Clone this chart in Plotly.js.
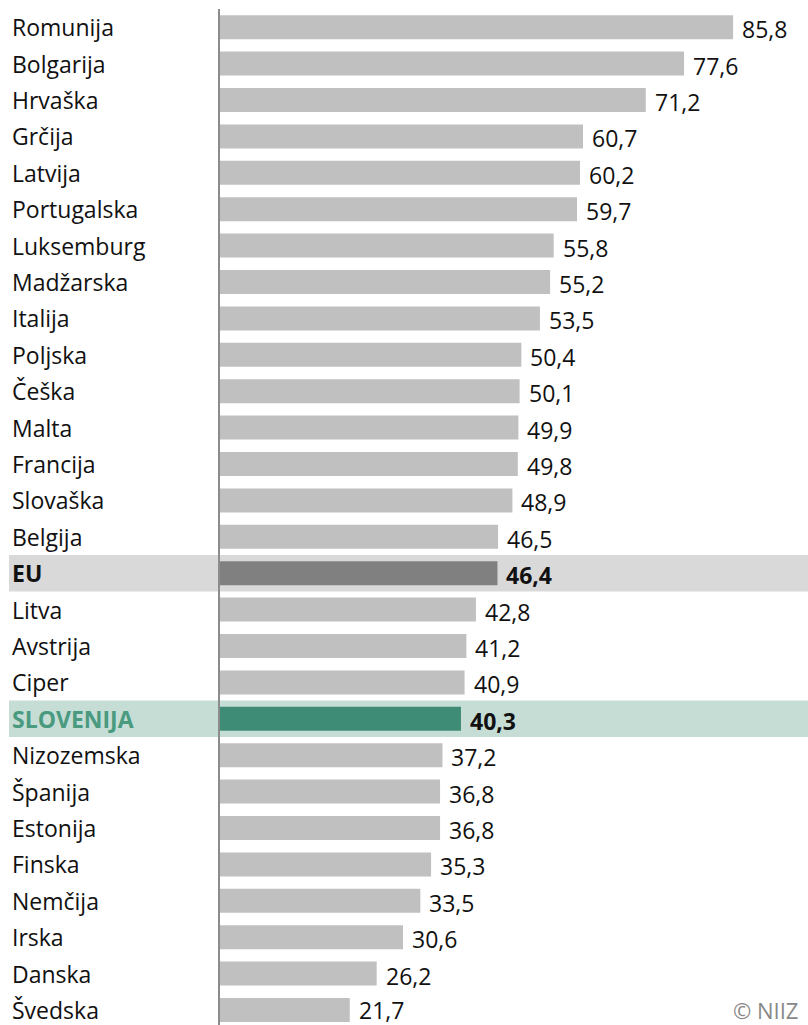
<!DOCTYPE html>
<html>
<head>
<meta charset="utf-8">
<script src="https://cdn.plot.ly/plotly-3.0.1.min.js"></script>
<style>html,body{margin:0;padding:0;background:#fff;}#chart{width:808px;height:1025px;}</style>
</head>
<body>
<div id="chart"></div>
<script>
const countries = ["Romunija","Bolgarija","Hrvaška","Grčija","Latvija","Portugalska","Luksemburg","Madžarska","Italija","Poljska","Češka","Malta","Francija","Slovaška","Belgija","EU","Litva","Avstrija","Ciper","SLOVENIJA","Nizozemska","Španija","Estonija","Finska","Nemčija","Irska","Danska","Švedska"];
const values = [85.8,77.6,71.2,60.7,60.2,59.7,55.8,55.2,53.5,50.4,50.1,49.9,49.8,48.9,46.5,46.4,42.8,41.2,40.9,40.3,37.2,36.8,36.8,35.3,33.5,30.6,26.2,21.7];
const source = "© NIIZ";

const FONT = "Open Sans, Noto Sans, sans-serif";
const colBar = "#c0c0c0", colEU = "#808080", colSI = "#3f8c76";
const barColors = countries.map(c => c === "EU" ? colEU : (c === "SLOVENIJA" ? colSI : colBar));
const idx = countries.map((c, i) => i);

const W = 808, H = 1025, L = 220, T = 9;
const labelX = (11 - L) / (W - L);
const bandX0 = (9 - L) / (W - L);

const shapes = [];
countries.forEach((c, i) => {
  if (c === "EU" || c === "SLOVENIJA") {
    shapes.push({type: "rect", layer: "below", xref: "paper", yref: "y",
      x0: bandX0, x1: 1, y0: i - 0.5, y1: i + 0.5, line: {width: 0},
      fillcolor: c === "EU" ? "#d9d9d9" : "#c6ddd6"});
  }
});

const annotations = [];
countries.forEach((c, i) => {
  const special = (c === "EU" || c === "SLOVENIJA");
  annotations.push({xref: "paper", yref: "y", x: labelX, y: i, xanchor: "left", yanchor: "middle",
    text: special ? "<b>" + c + "</b>" : c, showarrow: false, borderpad: 0,
    font: {family: FONT, size: 23, color: c === "SLOVENIJA" ? "#4a9a80" : "#111"}});
  const v = values[i].toFixed(1).replace(".", ",");
  annotations.push({xref: "x", yref: "y", x: values[i], y: i, xanchor: "left", yanchor: "middle",
    xshift: 8, yshift: i === countries.length - 1 ? 0 : -2, borderpad: 0,
    text: special ? "<b>" + v + "</b>" : v, showarrow: false,
    font: {family: FONT, size: 23, color: "#111"}});
});
annotations.push({xref: "paper", yref: "paper", x: 1, y: (H - 1010) / (H - T), xanchor: "right", yanchor: "middle",
  xshift: -9, borderpad: 0, text: source, showarrow: false, font: {family: FONT, size: 22, color: "#888"}});

const trace = {type: "bar", orientation: "h", x: values, y: idx,
  marker: {color: barColors, line: {width: 0}}, hoverinfo: "none"};

const plotH = H - T;
const layout = {
  width: W, height: H, margin: {l: L, r: 0, t: T, b: 0},
  paper_bgcolor: "#fff", plot_bgcolor: "rgba(0,0,0,0)",
  bargap: 0.34, showlegend: false,
  xaxis: {range: [0, (W - L) / 5.98], showgrid: false, zeroline: false, showticklabels: false, showline: false, fixedrange: true},
  yaxis: {range: [-0.5 + plotH / 36.4, -0.5], showgrid: false, zeroline: false, showticklabels: false,
    showline: true, linecolor: "#8c8c8c", linewidth: 2, ticks: "", fixedrange: true},
  shapes: shapes, annotations: annotations
};
Plotly.newPlot("chart", [trace], layout, {displayModeBar: false, staticPlot: true});
</script>
</body>
</html>
